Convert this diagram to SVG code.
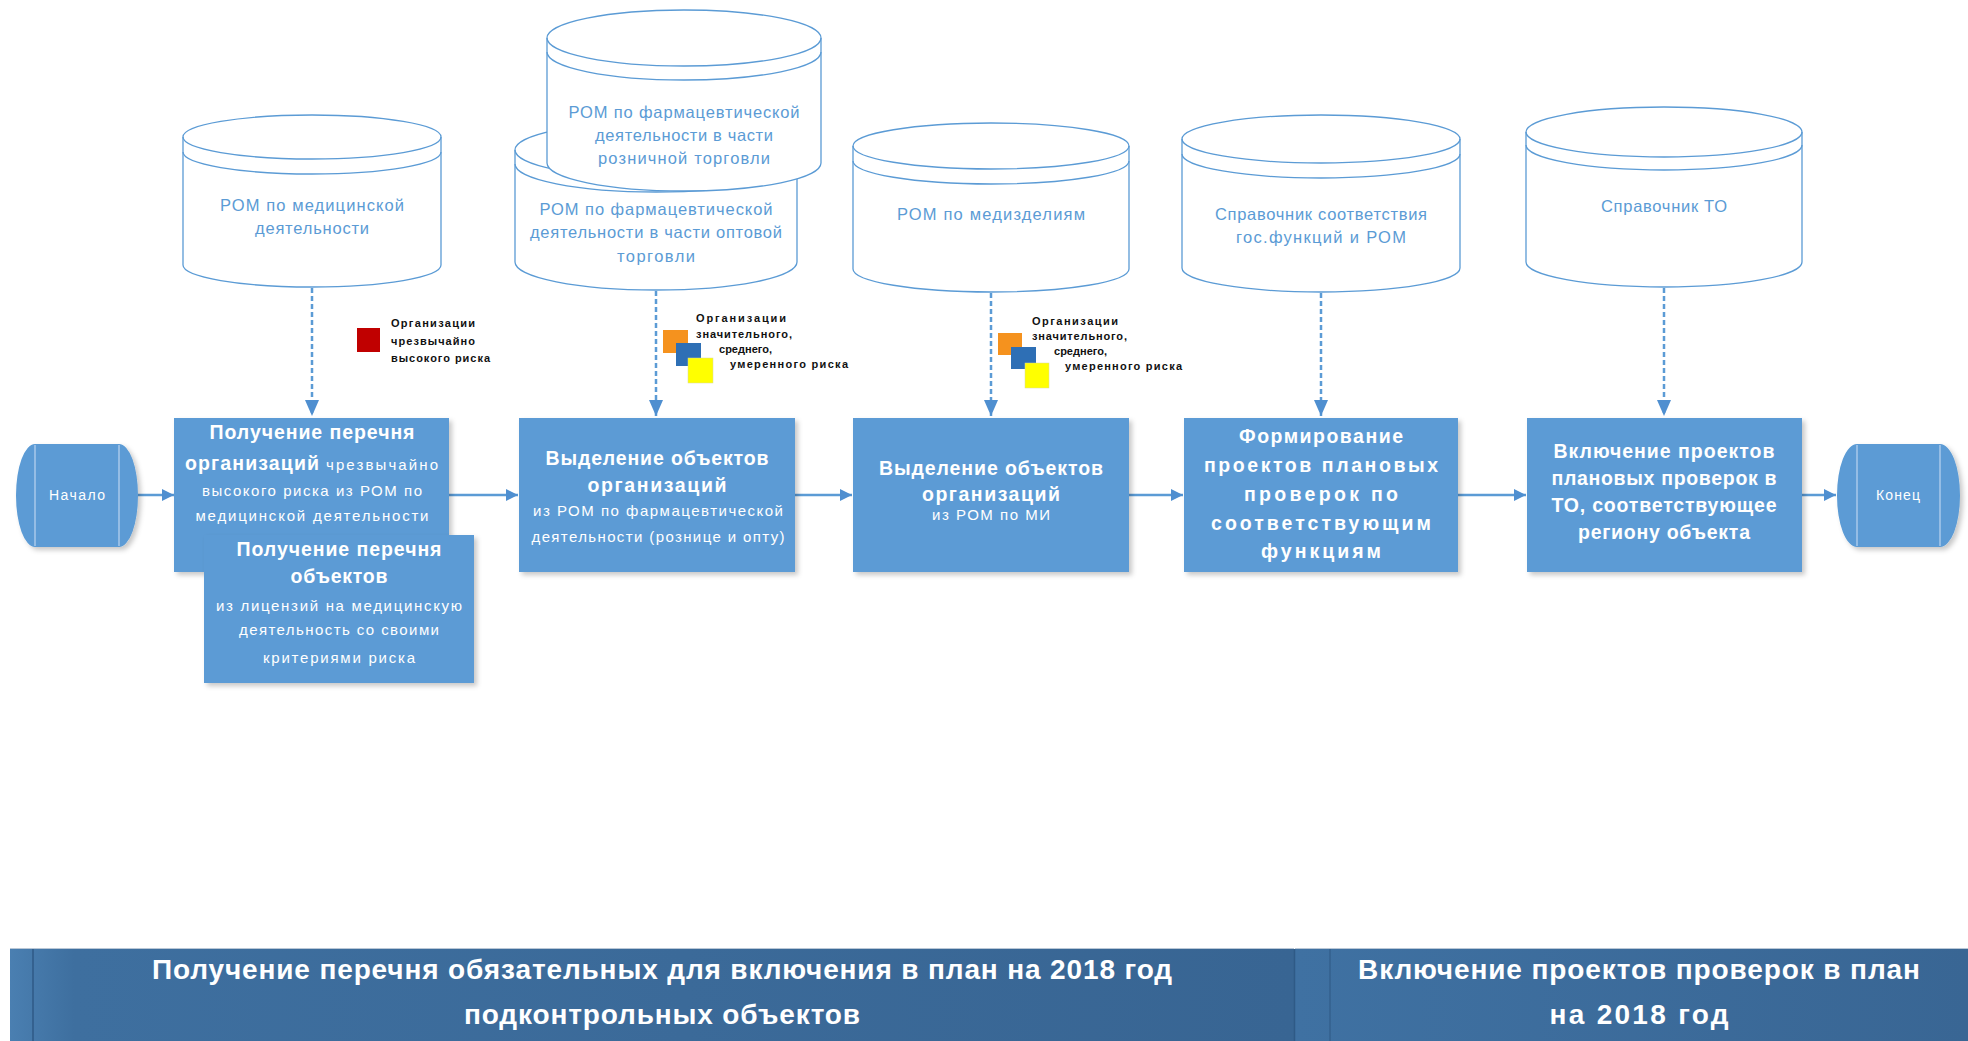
<svg xmlns="http://www.w3.org/2000/svg" width="1968" height="1041" viewBox="0 0 1968 1041">
<defs>
<style>
.cyl{fill:#ffffff;stroke:#5b9bd5;stroke-width:1.3}
.cl{fill:none;stroke:#5b9bd5;stroke-width:1.3}
.ct{font-family:"Liberation Sans",Arial,sans-serif;font-size:16.5px;fill:#5b9bd5;text-anchor:middle}
.box{fill:#5b9bd5;filter:url(#sh)}
.hd{font-family:"Liberation Sans",Arial,sans-serif;font-size:19.5px;font-weight:bold;fill:#ffffff;text-anchor:middle}
.sb{font-family:"Liberation Sans",Arial,sans-serif;font-size:15px;fill:#ffffff;text-anchor:middle}
.tt{font-family:"Liberation Sans",Arial,sans-serif;font-size:14px;fill:#ffffff;text-anchor:middle}
.nt{font-family:"Liberation Sans",Arial,sans-serif;font-size:11px;font-weight:bold;fill:#111111}
.bn{font-family:"Liberation Sans",Arial,sans-serif;font-size:28px;font-weight:bold;fill:#ffffff;text-anchor:middle}
.ln{stroke:#5b9bd5;stroke-width:2.5;fill:none}
.dl{stroke:#5b9bd5;stroke-width:2.5;fill:none;stroke-dasharray:5 3}
.inl{stroke:#a8c8ea;stroke-width:1.5}
</style>
<filter id="sh" x="-10%" y="-10%" width="125%" height="125%">
<feDropShadow dx="3" dy="3" stdDeviation="2.5" flood-color="#000000" flood-opacity="0.22"/>
</filter>
<marker id="ah" viewBox="0 0 12 12" refX="12" refY="6" markerWidth="12" markerHeight="12" markerUnits="userSpaceOnUse" orient="auto">
<path d="M0,0 L12,6 L0,12 Z" fill="#4f8fd0"/>
</marker>
<marker id="av" viewBox="0 0 16 14" refX="16" refY="7" markerWidth="16" markerHeight="14" markerUnits="userSpaceOnUse" orient="auto">
<path d="M0,0 L16,7 L0,14 Z" fill="#4f8fd0"/>
</marker>
<linearGradient id="bg" x1="0" y1="0" x2="1" y2="0">
<stop offset="0" stop-color="#4a7fb1"/>
<stop offset="0.05" stop-color="#3e6f9f"/>
<stop offset="1" stop-color="#386593"/>
</linearGradient>
<linearGradient id="bg2" x1="0" y1="0" x2="1" y2="0">
<stop offset="0" stop-color="#3f71a2"/>
<stop offset="1" stop-color="#396694"/>
</linearGradient>
</defs>
<rect width="1968" height="1041" fill="#ffffff"/>

<!-- connectors -->
<g id="connectors">
<line class="dl" x1="312" y1="288" x2="312" y2="416" marker-end="url(#av)"/>
<line class="dl" x1="656" y1="291" x2="656" y2="416" marker-end="url(#av)"/>
<line class="dl" x1="991" y1="293" x2="991" y2="416" marker-end="url(#av)"/>
<line class="dl" x1="1321" y1="293" x2="1321" y2="416" marker-end="url(#av)"/>
<line class="dl" x1="1664" y1="288" x2="1664" y2="416" marker-end="url(#av)"/>
<line class="ln" x1="138" y1="495" x2="174" y2="495" marker-end="url(#ah)"/>
<line class="ln" x1="449" y1="495" x2="518" y2="495" marker-end="url(#ah)"/>
<line class="ln" x1="795" y1="495" x2="852" y2="495" marker-end="url(#ah)"/>
<line class="ln" x1="1129" y1="495" x2="1183" y2="495" marker-end="url(#ah)"/>
<line class="ln" x1="1458" y1="495" x2="1526" y2="495" marker-end="url(#ah)"/>
<line class="ln" x1="1802" y1="495" x2="1836" y2="495" marker-end="url(#ah)"/>
</g>

<!-- cylinders -->
<g id="db-med">
<path class="cyl" d="M183,137 A129,22 0 0 1 441,137 L441,265 A129,22 0 0 1 183,265 Z"/>
<path class="cl" d="M183,137 A129,22 0 0 0 441,137 M183,152 A129,22 0 0 0 441,152"/>
<text class="ct" x="312" y="211" textLength="184">РОМ по медицинской</text>
<text class="ct" x="312" y="234" textLength="114">деятельности</text>
</g>
<g id="db-opt">
<path class="cyl" d="M515,150 A141,28 0 0 1 797,150 L797,262 A141,28 0 0 1 515,262 Z"/>
<path class="cl" d="M515,150 A141,28 0 0 0 797,150 M515,164 A141,28 0 0 0 797,164"/>
<text class="ct" x="656" y="215" textLength="233">РОМ по фармацевтической</text>
<text class="ct" x="656" y="238" textLength="252">деятельности в части оптовой</text>
<text class="ct" x="656" y="262" textLength="78">торговли</text>
</g>
<g id="db-rozn">
<path class="cyl" d="M547,38 A137,28 0 0 1 821,38 L821,163 A137,28 0 0 1 547,163 Z"/>
<path class="cl" d="M547,38 A137,28 0 0 0 821,38 M547,52 A137,28 0 0 0 821,52"/>
<text class="ct" x="684" y="118" textLength="231">РОМ по фармацевтической</text>
<text class="ct" x="684" y="141" textLength="178">деятельности в части</text>
<text class="ct" x="684" y="164" textLength="172">розничной торговли</text>
</g>
<g id="db-mi">
<path class="cyl" d="M853,146 A138,23 0 0 1 1129,146 L1129,269 A138,23 0 0 1 853,269 Z"/>
<path class="cl" d="M853,146 A138,23 0 0 0 1129,146 M853,161 A138,23 0 0 0 1129,161"/>
<text class="ct" x="991" y="220" textLength="188">РОМ по медизделиям</text>
</g>
<g id="db-func">
<path class="cyl" d="M1182,139 A139,24 0 0 1 1460,139 L1460,268 A139,24 0 0 1 1182,268 Z"/>
<path class="cl" d="M1182,139 A139,24 0 0 0 1460,139 M1182,154 A139,24 0 0 0 1460,154"/>
<text class="ct" x="1321" y="220" textLength="212">Справочник соответствия</text>
<text class="ct" x="1321" y="243" textLength="170">гос.функций и РОМ</text>
</g>
<g id="db-to">
<path class="cyl" d="M1526,132 A138,25 0 0 1 1802,132 L1802,262 A138,25 0 0 1 1526,262 Z"/>
<path class="cl" d="M1526,132 A138,25 0 0 0 1802,132 M1526,145 A138,25 0 0 0 1802,145"/>
<text class="ct" x="1664" y="212" textLength="126">Справочник ТО</text>
</g>

<!-- risk legends -->
<g id="legend-1">
<rect x="357" y="328" width="23" height="24" fill="#c00000"/>
<text class="nt" x="391" y="327" textLength="84">Организации</text>
<text class="nt" x="391" y="345" textLength="84">чрезвычайно</text>
<text class="nt" x="391" y="362" textLength="99">высокого риска</text>
</g>
<g id="legend-2">
<rect x="663" y="330" width="25" height="23" fill="#f5921e"/>
<rect x="676" y="343" width="25" height="23" fill="#2e6fb5"/>
<rect x="688" y="358" width="25" height="25" fill="#ffff00" stroke="#d8d8a0" stroke-width="0.5"/>
<text class="nt" x="696" y="322" textLength="90">Организации</text>
<text class="nt" x="696" y="338" textLength="96">значительного,</text>
<text class="nt" x="719" y="353" textLength="53">среднего,</text>
<text class="nt" x="730" y="368" textLength="118">умеренного риска</text>
</g>
<g id="legend-3">
<rect x="998" y="333" width="24" height="22" fill="#f5921e"/>
<rect x="1011" y="347" width="25" height="22" fill="#2e6fb5"/>
<rect x="1025" y="363" width="24" height="25" fill="#ffff00" stroke="#d8d8a0" stroke-width="0.5"/>
<text class="nt" x="1032" y="325" textLength="86">Организации</text>
<text class="nt" x="1032" y="340" textLength="95">значительного,</text>
<text class="nt" x="1054" y="355" textLength="53">среднего,</text>
<text class="nt" x="1065" y="370" textLength="117">умеренного риска</text>
</g>

<!-- start / end -->
<g id="start">
<path d="M35,444 H119 A19,51.5 0 0 1 119,547 H35 A19,51.5 0 0 1 35,444 Z" fill="#5b9bd5" filter="url(#sh)"/>
<line class="inl" x1="35" y1="445" x2="35" y2="546"/>
<line class="inl" x1="119" y1="445" x2="119" y2="546"/>
<text class="tt" x="77" y="500" textLength="56">Начало</text>
</g>
<g id="end">
<path d="M1857,444 H1940 A20,51.5 0 0 1 1940,547 H1857 A20,51.5 0 0 1 1857,444 Z" fill="#5b9bd5" filter="url(#sh)"/>
<line class="inl" x1="1857" y1="445" x2="1857" y2="546"/>
<line class="inl" x1="1940" y1="445" x2="1940" y2="546"/>
<text class="tt" x="1898" y="500" textLength="44">Конец</text>
</g>

<!-- process boxes -->
<g id="box-1">
<rect class="box" x="174" y="418" width="275" height="154"/>
<text class="hd" x="312" y="439" textLength="205">Получение перечня</text>
<text class="hd" x="185" y="470" textLength="134" style="text-anchor:start">организаций</text>
<text class="sb" x="326" y="470" textLength="112" style="text-anchor:start">чрезвычайно</text>
<text class="sb" x="312" y="496" textLength="220">высокого риска из РОМ по</text>
<text class="sb" x="312" y="521" textLength="233">медицинской деятельности</text>
</g>
<g id="box-1b">
<rect class="box" x="204" y="535" width="270" height="148"/>
<text class="hd" x="339" y="556" textLength="205">Получение перечня</text>
<text class="hd" x="339" y="583" textLength="97">объектов</text>
<text class="sb" x="339" y="611" textLength="246">из лицензий на медицинскую</text>
<text class="sb" x="339" y="635" textLength="200">деятельность со своими</text>
<text class="sb" x="339" y="663" textLength="152">критериями риска</text>
</g>
<g id="box-2">
<rect class="box" x="519" y="418" width="276" height="154"/>
<text class="hd" x="657" y="465" textLength="223">Выделение объектов</text>
<text class="hd" x="657" y="492" textLength="139">организаций</text>
<text class="sb" x="658" y="516" textLength="250">из РОМ по фармацевтической</text>
<text class="sb" x="658" y="542" textLength="253">деятельности (рознице и опту)</text>
</g>
<g id="box-3">
<rect class="box" x="853" y="418" width="276" height="154"/>
<text class="hd" x="991" y="475" textLength="224">Выделение объектов</text>
<text class="hd" x="991" y="501" textLength="138">организаций</text>
<text class="sb" x="991" y="520" textLength="118">из РОМ по МИ</text>
</g>
<g id="box-4">
<rect class="box" x="1184" y="418" width="274" height="154"/>
<text class="hd" x="1321" y="443" textLength="164">Формирование</text>
<text class="hd" x="1321" y="472" textLength="234">проектов плановых</text>
<text class="hd" x="1321" y="501" textLength="154">проверок по</text>
<text class="hd" x="1321" y="530" textLength="220">соответствующим</text>
<text class="hd" x="1321" y="558" textLength="120">функциям</text>
</g>
<g id="box-5">
<rect class="box" x="1527" y="418" width="275" height="154"/>
<text class="hd" x="1664" y="458" textLength="221">Включение проектов</text>
<text class="hd" x="1664" y="485" textLength="225">плановых проверок в</text>
<text class="hd" x="1664" y="512" textLength="225">ТО, соответствующее</text>
<text class="hd" x="1664" y="539" textLength="172">региону объекта</text>
</g>

<!-- bottom phase banners -->
<g id="phase-1">
<rect x="10" y="948" width="1284" height="93" fill="url(#bg)"/>
<line x1="10" y1="948.5" x2="1294" y2="948.5" stroke="#b9c7d6" stroke-width="1"/>
<line x1="33" y1="949" x2="33" y2="1041" stroke="#2f5a86" stroke-width="1.5"/>
<text class="bn" x="662" y="979" textLength="1020">Получение перечня обязательных для включения в план на 2018 год</text>
<text class="bn" x="662" y="1024" textLength="396">подконтрольных объектов</text>
</g>
<g id="phase-2">
<rect x="1295" y="948" width="673" height="93" fill="url(#bg2)"/>
<line x1="1295" y1="948.5" x2="1968" y2="948.5" stroke="#b9c7d6" stroke-width="1"/>
<line x1="1294.5" y1="949" x2="1294.5" y2="1041" stroke="#2f5a86" stroke-width="1.5"/>
<line x1="1330" y1="949" x2="1330" y2="1041" stroke="#34608e" stroke-width="1.5"/>
<text class="bn" x="1639" y="979" textLength="562">Включение проектов проверок в план</text>
<text class="bn" x="1639" y="1024" textLength="179">на 2018 год</text>
</g>
</svg>
